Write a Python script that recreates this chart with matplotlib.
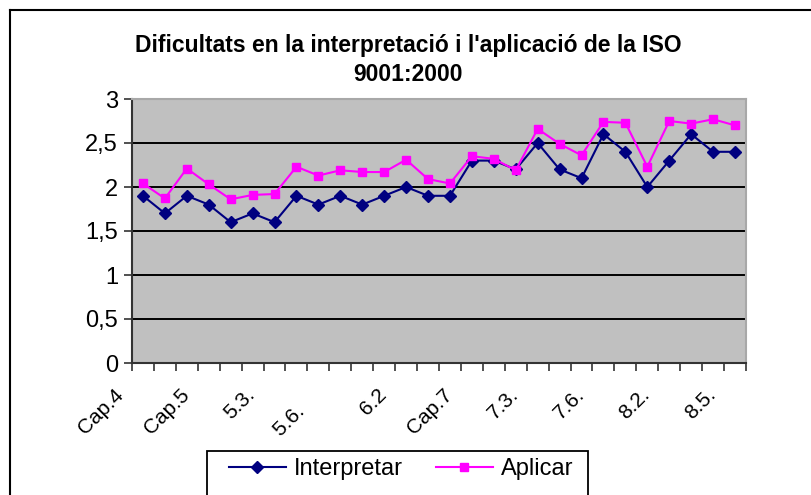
import matplotlib
matplotlib.use("Agg")
import matplotlib.pyplot as plt
from matplotlib.lines import Line2D
from matplotlib.patches import Rectangle
import matplotlib.transforms as mtransforms
import numpy as np

title_text = "Dificultats en la interpretació i l'aplicació de la ISO\n9001:2000"
tick_labels = ["Cap.4", "Cap.5", "5.3.", "5.6.    ", "6.2", "Cap.7", "7.3.", "7.6.", "8.2.", "8.5."]
label_step = 3
interpretar = [1.9, 1.7, 1.9, 1.8, 1.6, 1.7, 1.6, 1.9, 1.8, 1.9, 1.8, 1.9, 2.0, 1.9,
               1.9, 2.3, 2.3, 2.2, 2.5, 2.2, 2.1, 2.6, 2.4, 2.0, 2.3, 2.6, 2.4, 2.4]
aplicar = [2.04, 1.87, 2.21, 2.03, 1.86, 1.91, 1.92, 2.23, 2.13, 2.19, 2.17, 2.17, 2.31, 2.09,
           2.04, 2.35, 2.32, 2.19, 2.66, 2.49, 2.36, 2.74, 2.73, 2.23, 2.75, 2.72, 2.77, 2.70]
series_names = ["Interpretar", "Aplicar"]
y_ticks = [0, 0.5, 1, 1.5, 2, 2.5, 3]
y_tick_labels = ["0", "0,5", "1", "1,5", "2", "2,5", "3"]

plt.rcParams["font.family"] = ["Liberation Sans", "DejaVu Sans"]

W, H = 812, 495
fig = plt.figure(figsize=(W / 100, H / 100), dpi=100)
fig.patch.set_facecolor("white")

# plot area in pixels
L, R, T, B = 132, 746, 99, 363
ax = fig.add_axes([L / W, (H - B) / H, (R - L) / W, (B - T) / H])
ax.set_facecolor("#C0C0C0")

n = len(interpretar)
x = np.arange(n)
ax.set_xlim(-0.5, n - 0.5)
ax.set_ylim(0, 3)

for yv in y_ticks[1:-1]:
    ax.axhline(yv, color="black", lw=1.4, zorder=1)

ax.plot(x, interpretar, color="#000080", lw=1.5, marker="D", ms=7,
        markerfacecolor="#000080", markeredgecolor="#000080", zorder=3, label=series_names[0])
ax.plot(x, aplicar, color="#FF00FF", lw=1.5, marker="s", ms=8,
        markerfacecolor="#FF00FF", markeredgecolor="#FF00FF", zorder=3, label=series_names[1])

ax.set_yticks(y_ticks)
ax.set_yticklabels(y_tick_labels, fontsize=17)
ax.tick_params(axis="y", direction="out", length=6, width=1.2, color="#333333", pad=4)

ax.set_xticks(np.arange(-0.5, n, 1.0))
ax.set_xticklabels([])
ax.tick_params(axis="x", which="major", direction="out", length=6, width=1.2, color="#333333")
ax.set_xticks(x[::label_step], minor=True)
ax.set_xticklabels(tick_labels, minor=True, rotation=45, ha="right", va="top",
                   rotation_mode="anchor", fontsize=15)
ax.tick_params(axis="x", which="minor", length=0, pad=16)
offset = mtransforms.ScaledTranslation(-29 / 100, 0, fig.dpi_scale_trans)
for lab in ax.get_xticklabels(minor=True):
    lab.set_transform(lab.get_transform() + offset)

for s in ["left", "bottom"]:
    ax.spines[s].set_color("#333333")
    ax.spines[s].set_linewidth(1.5)
for s in ["right", "top"]:
    ax.spines[s].set_color("#A8A8A8")
    ax.spines[s].set_linewidth(1.5)

# title
fig.text(408 / W, 1 - 60 / H, title_text, ha="center", va="center", fontsize=16.5,
         fontweight="bold", linespacing=1.35)

# outer chart border
fig.add_artist(Line2D([10 / W, 10 / W], [1 - 10 / H, 0], color="black", lw=1.5,
                      transform=fig.transFigure))
fig.add_artist(Line2D([10 / W, 1], [1 - 10 / H, 1 - 10 / H], color="black", lw=1.5,
                      transform=fig.transFigure))

# legend box
fig.add_artist(Rectangle((207 / W, -0.05), (588 - 207) / W, 0.05 + (H - 451) / H,
                         transform=fig.transFigure, fill=False, edgecolor="black", lw=1.3))
handles, labels = ax.get_legend_handles_labels()
for h in handles:
    h.set_markersize(6)
leg = fig.legend(handles, labels, loc="center left", bbox_to_anchor=(229 / W, 1 - 469 / H),
                 ncol=2, frameon=False, prop={"size": 17}, borderpad=0, borderaxespad=0,
                 handlelength=2.4, columnspacing=1.4, handletextpad=0.35)

fig.savefig("out.png", dpi=100, facecolor="white")
